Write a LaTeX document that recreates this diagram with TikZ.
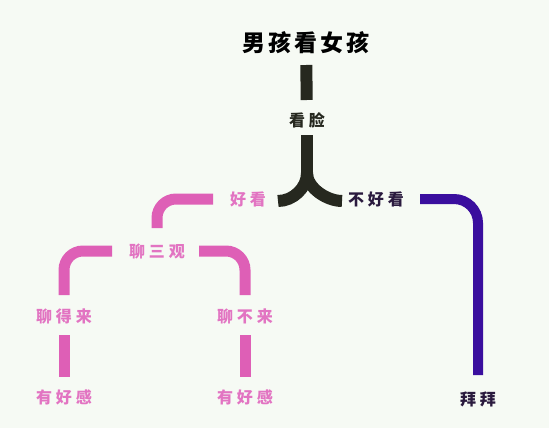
\documentclass[tikz,border=0pt]{standalone}
\usepackage{fontspec}
\newfontfamily\cjk{Noto Sans CJK SC}[LetterSpace=24]
\newfontfamily\cjkhead{Noto Sans CJK SC}[LetterSpace=14]
\usetikzlibrary{positioning}

\definecolor{paper}{HTML}{F6FAF4}
\definecolor{inkdark}{HTML}{26281F}
\definecolor{rosebar}{HTML}{DE5FB6}
\definecolor{rosetext}{HTML}{E274C2}
\definecolor{violetbar}{HTML}{3A0E9E}
\definecolor{violettext}{HTML}{2A1A3E}

\begin{document}
\begin{tikzpicture}[
        x=1pt, y=-1pt,
        every node/.style={inner sep=0pt, font=\cjk\bfseries\fontsize{16}{16}\selectfont},
        headline/.style={font=\cjkhead\bfseries\fontsize{23}{23}\selectfont, text=black},
        darklbl/.style={text=inkdark},
        roselbl/.style={text=rosetext},
        violetlbl/.style={text=violettext},
        blackbar/.style={draw=inkdark, line width=12pt},
        rosebar/.style={draw=rosebar, line width=11pt, rounded corners=19pt},
        violetbar/.style={draw=violetbar, line width=10pt, rounded corners=24pt}
    ]

    % Canvas
    \fill[paper] (0,0) rectangle (549,428);
    \useasboundingbox (0,0) rectangle (549,428);

    % Top
    \node[headline] (boy) at (306,43) {男孩看女孩};
    \node[darklbl] (face) at (307,120) {看脸};
    \coordinate (fork) at (307,173);

    % Level 2
    \node[roselbl] (nice) at (248,199) {好看};
    \node[violetlbl] (ugly) at (376,199) {不好看};

    % Level 3
    \node[roselbl] (talk) at (157,251) {聊三观};
    \node[roselbl] (fit) at (64,316) {聊得来};
    \node[roselbl] (nofit) at (245,316) {聊不来};
    \node[roselbl] (likeA) at (64,397) {有好感};
    \node[roselbl] (likeB) at (245,397) {有好感};
    \node[violetlbl] (bye) at (478,399) {拜拜};

    % Black links
    \draw[blackbar, shorten <=22pt, shorten >=20pt] (boy.center) -- (face.center);
    \draw[blackbar, shorten <=15pt] (face.center) -- (fork);
    \draw[blackbar] (fork) .. controls +(0,15) and +(15,0) .. ([xshift=30pt, yshift=-2pt]nice.center);
    \draw[blackbar] (fork) .. controls +(0,15) and +(-15,0) .. ([xshift=-34pt, yshift=-2pt]ugly.center);

    % Rose links
    \draw[rosebar, shorten <=35pt, shorten >=23pt] (nice.center) -| (talk.center);
    \draw[rosebar, shorten <=45pt, shorten >=21pt] (talk.center) -| (fit.center);
    \draw[rosebar, shorten <=42pt, shorten >=21pt] (talk.center) -| (nofit.center);
    \draw[rosebar, shorten <=19pt, shorten >=20pt] (fit.center) -- (likeA.center);
    \draw[rosebar, shorten <=19pt, shorten >=20pt] (nofit.center) -- (likeB.center);

    % Violet link
    \draw[violetbar, shorten <=44pt, shorten >=24pt] (ugly.center) -| (bye.center);

\end{tikzpicture}
\end{document}
